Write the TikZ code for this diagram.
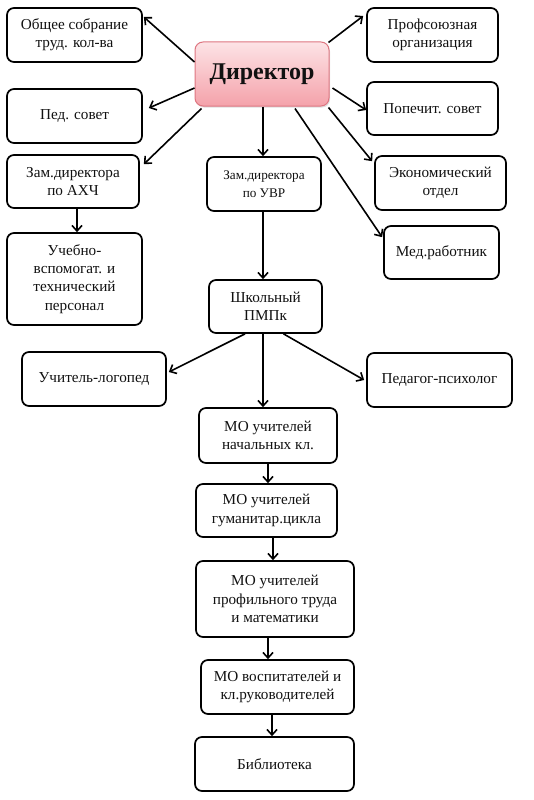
\documentclass[tikz,border=0pt]{standalone}
\usepackage{fontspec}
\setmainfont{Liberation Serif}
\usetikzlibrary{arrows.meta,shadows}
\definecolor{dirtop}{HTML}{FDE3E6}
\definecolor{dirbot}{HTML}{F4A2AA}
\definecolor{dirline}{HTML}{DE7681}
\definecolor{txt}{HTML}{111111}
\begin{document}
\begin{tikzpicture}[x=1pt,y=-1pt,
  box/.style={draw=black,line width=1.7pt,rounded corners=7pt,align=center,
    inner sep=2pt,font=\fontsize{15.2}{18.3}\selectfont,text=txt},
  sbox/.style={box,font=\fontsize{13.2}{17.5}\selectfont},
  dirbox/.style={draw=dirline,line width=1pt,rounded corners=8pt,
    top color=dirtop,bottom color=dirbot,
    drop shadow={shadow xshift=1pt,shadow yshift=-1.5pt,opacity=0.25},
    font=\fontsize{24}{26}\selectfont\bfseries,text=txt},
  arr/.style={line width=1.6pt,-{Straight Barb[length=5.5pt,width=10pt,line width=1.6pt]}}]
\useasboundingbox (0,0) rectangle (534,800);
\fill[white] (0,0) rectangle (534,800);
% nodes (center, width, height)
\node[dirbox,minimum width=134pt,minimum height=64pt] (dir) at (262,74) {Директор};
\node[box,minimum width=135pt,minimum height=54pt] (obs) at (74.5,35) {Общее собрание\\труд. кол-ва};
\node[box,minimum width=131pt,minimum height=54pt] (prof) at (432.5,35) {Профсоюзная\\организация};
\node[box,minimum width=135pt,minimum height=54pt] (ped) at (74.5,116) {Пед. совет};
\node[box,minimum width=131pt,minimum height=53pt] (pop) at (432.5,108.5) {Попечит. совет};
\node[box,minimum width=132pt,minimum height=53pt] (ahch) at (73,181.5) {Зам.директора\\по АХЧ};
\node[sbox,minimum width=114pt,minimum height=54pt] (uvr) at (264,184) {Зам.директора\\по УВР};
\node[box,minimum width=131pt,minimum height=54pt] (econ) at (440.5,183) {Экономический\\отдел};
\node[box,minimum width=135pt,minimum height=92pt] (uch) at (74.5,279) {Учебно-\\вспомогат. и\\технический\\персонал};
\node[box,minimum width=115pt,minimum height=53pt] (med) at (441.5,252.5) {Мед.работник};
\node[box,minimum width=113pt,minimum height=53pt] (pmpk) at (265.5,306.5) {Школьный\\ПМПк};
\node[box,minimum width=144pt,minimum height=54pt] (log) at (94,379) {Учитель-логопед};
\node[box,minimum width=145pt,minimum height=54pt] (psy) at (439.5,380) {Педагог-психолог};
\node[box,minimum width=138pt,minimum height=55pt] (mo1) at (268,435.5) {МО учителей\\начальных кл.};
\node[box,minimum width=141pt,minimum height=53pt] (mo2) at (266.5,510.5) {МО учителей\\гуманитар.цикла};
\node[box,minimum width=158pt,minimum height=76pt] (mo3) at (275,599) {МО учителей\\профильного труда\\и математики};
\node[box,minimum width=153pt,minimum height=54pt] (mo4) at (277.5,687) {МО воспитателей и\\кл.руководителей};
\node[box,minimum width=159pt,minimum height=54pt] (bib) at (274.5,764) {Библиотека};
% connectors from the director
\draw[arr] ([yshift=12pt]dir.west) -- ([xshift=1pt,yshift=18pt]obs.east);
\draw[arr] ([xshift=-1pt,yshift=-1pt]dir.north east) -- ([xshift=-3pt,yshift=19pt]prof.west);
\draw[arr] ([yshift=-14pt]dir.west) -- ([xshift=6pt,yshift=8pt]ped.east);
\draw[arr] ([xshift=3pt,yshift=-14pt]dir.east) -- ([yshift=-1.5pt]pop.west);
\draw[arr] ([xshift=7pt,yshift=-2pt]dir.south west) -- ([xshift=4pt,yshift=-10pt]ahch.north east);
\draw[arr] ([xshift=-1pt,yshift=-1pt]dir.south east) -- ([xshift=-2pt,yshift=-6pt]econ.north west);
\draw[arr] ([xshift=33pt,yshift=-2pt]dir.south) -- ([xshift=-1pt,yshift=-12pt]med.north west);
\draw[arr] ([xshift=1pt]dir.south) -- ([xshift=-1pt]uvr.north);
% vertical chains
\draw[arr] ([xshift=4pt]ahch.south) -- ([xshift=2.5pt]uch.north);
\draw[arr] ([xshift=-1pt]uvr.south) -- ([xshift=-2.5pt]pmpk.north);
\draw[arr] ([xshift=-2.5pt]pmpk.south) -- ([xshift=-5pt]mo1.north);
\draw[arr] ([xshift=-20.5pt]pmpk.south) -- ([xshift=2pt,yshift=7pt]log.east);
\draw[arr] ([xshift=18pt]pmpk.south) -- ([xshift=-2pt]psy.west);
\draw[arr] (mo1.south) -- ([xshift=1.5pt]mo2.north);
\draw[arr] ([xshift=6.5pt]mo2.south) -- ([xshift=-2pt]mo3.north);
\draw[arr] ([xshift=-7pt]mo3.south) -- ([xshift=-9.5pt]mo4.north);
\draw[arr] ([xshift=-5.5pt]mo4.south) -- ([xshift=-2.5pt]bib.north);
\end{tikzpicture}
\end{document}
